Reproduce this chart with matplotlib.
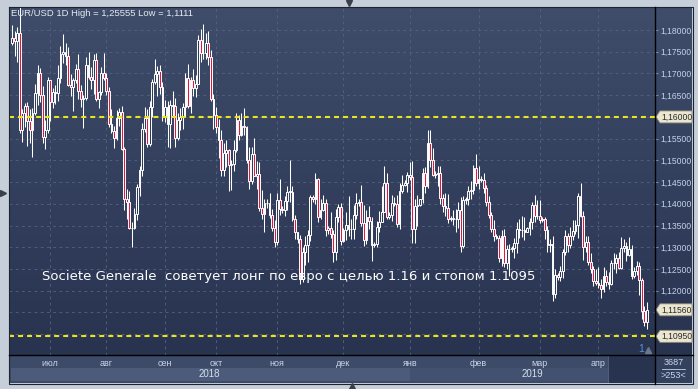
import matplotlib
matplotlib.use("Agg")
import matplotlib.pyplot as plt
from matplotlib.patches import Rectangle, Polygon
from matplotlib.colors import LinearSegmentedColormap
from matplotlib.ticker import FuncFormatter
import numpy as np
import pandas as pd

plt.rcParams['font.family'] = ['Liberation Sans', 'DejaVu Sans']
plt.rcParams['lines.scale_dashes'] = False

W, H = 698, 389

# EUR/USD daily candles, 11 Jun 2018 .. 26 Apr 2019 (broker shows small Sunday bars in winter)
opens = [
    1.1770, 1.1781, 1.1774, 1.1793, 1.1571, 1.1608, 1.1625, 1.1590, 1.1570, 1.1610, 1.1656, 1.1701, 1.1650, 1.1553, 1.1571,
    1.1684, 1.1634, 1.1658, 1.1654, 1.1690, 1.1745, 1.1749, 1.1741, 1.1673, 1.1670, 1.1685, 1.1710, 1.1659, 1.1641, 1.1643,
    1.1720, 1.1693, 1.1685, 1.1731, 1.1642, 1.1657, 1.1701,
    1.1690, 1.1659, 1.1584, 1.1567, 1.1552, 1.1598, 1.1611, 1.1526, 1.1410, 1.1405, 1.1344, 1.1345, 1.1377, 1.1439, 1.1477,
    1.1572, 1.1597, 1.1537, 1.1623, 1.1680, 1.1698, 1.1706, 1.1668,
    1.1603, 1.1622, 1.1583, 1.1627, 1.1625, 1.1551, 1.1593, 1.1600, 1.1623, 1.1690, 1.1626, 1.1684, 1.1666, 1.1675, 1.1778,
    1.1747, 1.1747, 1.1770, 1.1738, 1.1642,
    1.1604, 1.1577, 1.1548, 1.1478, 1.1516, 1.1524, 1.1490, 1.1491, 1.1523, 1.1594, 1.1559, 1.1580, 1.1577, 1.1500, 1.1452,
    1.1514, 1.1463, 1.1469, 1.1391, 1.1377, 1.1401, 1.1402, 1.1374, 1.1345,
    1.1312, 1.1408, 1.1388, 1.1385, 1.1407, 1.1428, 1.1428, 1.1364, 1.1335, 1.1318, 1.1226, 1.1289, 1.1305, 1.1328, 1.1416,
    1.1410, 1.1456, 1.1370, 1.1386, 1.1403, 1.1339, 1.1345, 1.1330, 1.1288, 1.1370, 1.1393,
    1.1315, 1.1340, 1.1352, 1.1342, 1.1343, 1.1375, 1.1403, 1.1405, 1.1355, 1.1317, 1.1370, 1.1361, 1.1306, 1.1307, 1.1347,
    1.1359, 1.1381, 1.1448, 1.1370, 1.1374, 1.1403, 1.1400, 1.1354, 1.1430, 1.1444, 1.1447,
    1.1466, 1.1462, 1.1343, 1.1396, 1.1397, 1.1410, 1.1472, 1.1441, 1.1540, 1.1501, 1.1467, 1.1468, 1.1472, 1.1413, 1.1394,
    1.1391, 1.1364, 1.1368, 1.1366, 1.1364, 1.1385, 1.1304, 1.1408, 1.1411, 1.1429, 1.1431, 1.1482,
    1.1448, 1.1457, 1.1455, 1.1437, 1.1405, 1.1375, 1.1341, 1.1325, 1.1322, 1.1275, 1.1326, 1.1263, 1.1295, 1.1296, 1.1298,
    1.1310, 1.1341, 1.1340, 1.1339, 1.1336, 1.1344, 1.1358, 1.1397, 1.1372,
    1.1371, 1.1363, 1.1365, 1.1339, 1.1305, 1.1307, 1.1193, 1.1235, 1.1232, 1.1246, 1.1288, 1.1327, 1.1306, 1.1327, 1.1337,
    1.1352, 1.1418, 1.1373, 1.1301, 1.1313, 1.1266, 1.1249, 1.1223,
    1.1217, 1.1214, 1.1203, 1.1234, 1.1221, 1.1216, 1.1263, 1.1264, 1.1275, 1.1253, 1.1299, 1.1304, 1.1283, 1.1295, 1.1233,
    1.1245, 1.1258, 1.1224, 1.1153, 1.1129,
]
highs = [
    1.1812, 1.1797, 1.1808, 1.1852, 1.1619, 1.1632, 1.1634, 1.1619, 1.1620, 1.1676, 1.1719, 1.1712, 1.1672, 1.1592, 1.1691,
    1.1685, 1.1666, 1.1673, 1.1720, 1.1763, 1.1791, 1.1769, 1.1762, 1.1698, 1.1689, 1.1722, 1.1744, 1.1673, 1.1651, 1.1738,
    1.1750, 1.1715, 1.1745, 1.1748, 1.1660, 1.1714, 1.1747,
    1.1700, 1.1668, 1.1618, 1.1580, 1.1615, 1.1620, 1.1625, 1.1531, 1.1433, 1.1430, 1.1357, 1.1391, 1.1445, 1.1488, 1.1586,
    1.1622, 1.1618, 1.1636, 1.1688, 1.1733, 1.1717, 1.1720, 1.1680,
    1.1638, 1.1637, 1.1640, 1.1660, 1.1643, 1.1609, 1.1620, 1.1631, 1.1700, 1.1722, 1.1691, 1.1710, 1.1697, 1.1788, 1.1803,
    1.1815, 1.1793, 1.1798, 1.1755, 1.1653,
    1.1622, 1.1596, 1.1571, 1.1541, 1.1547, 1.1526, 1.1500, 1.1547, 1.1609, 1.1605, 1.1608, 1.1621, 1.1580, 1.1531, 1.1530,
    1.1551, 1.1498, 1.1496, 1.1432, 1.1410, 1.1410, 1.1426, 1.1387, 1.1362,
    1.1425, 1.1456, 1.1395, 1.1417, 1.1441, 1.1500, 1.1440, 1.1374, 1.1336, 1.1329, 1.1300, 1.1326, 1.1339, 1.1420, 1.1420,
    1.1472, 1.1460, 1.1410, 1.1420, 1.1410, 1.1350, 1.1381, 1.1340, 1.1389, 1.1400, 1.1401,
    1.1345, 1.1380, 1.1419, 1.1365, 1.1398, 1.1424, 1.1412, 1.1443, 1.1398, 1.1386, 1.1395, 1.1369, 1.1312, 1.1360, 1.1384,
    1.1440, 1.1486, 1.1470, 1.1380, 1.1420, 1.1415, 1.1420, 1.1447, 1.1467, 1.1455, 1.1473,
    1.1497, 1.1498, 1.1410, 1.1420, 1.1412, 1.1482, 1.1485, 1.1569, 1.1570, 1.1529, 1.1475, 1.1487, 1.1486, 1.1423, 1.1426,
    1.1422, 1.1372, 1.1386, 1.1389, 1.1404, 1.1416, 1.1417, 1.1415, 1.1440, 1.1452, 1.1489, 1.1514,
    1.1488, 1.1463, 1.1471, 1.1443, 1.1418, 1.1380, 1.1363, 1.1330, 1.1329, 1.1340, 1.1341, 1.1306, 1.1307, 1.1303, 1.1322,
    1.1357, 1.1366, 1.1372, 1.1369, 1.1347, 1.1368, 1.1404, 1.1420, 1.1408,
    1.1409, 1.1370, 1.1369, 1.1349, 1.1319, 1.1327, 1.1249, 1.1240, 1.1257, 1.1295, 1.1339, 1.1333, 1.1346, 1.1362, 1.1362,
    1.1425, 1.1448, 1.1384, 1.1326, 1.1325, 1.1286, 1.1257, 1.1250,
    1.1255, 1.1227, 1.1255, 1.1247, 1.1243, 1.1271, 1.1287, 1.1284, 1.1288, 1.1324, 1.1318, 1.1313, 1.1324, 1.1305, 1.1254,
    1.1268, 1.1265, 1.1230, 1.1164, 1.1173,
]
lows = [
    1.1765, 1.1741, 1.1727, 1.1563, 1.1542, 1.1576, 1.1532, 1.1540, 1.1508, 1.1604, 1.1627, 1.1635, 1.1539, 1.1527, 1.1563,
    1.1591, 1.1621, 1.1630, 1.1636, 1.1677, 1.1725, 1.1720, 1.1671, 1.1649, 1.1614, 1.1679, 1.1642, 1.1622, 1.1575, 1.1640,
    1.1688, 1.1665, 1.1653, 1.1637, 1.1620, 1.1650, 1.1686,
    1.1650, 1.1576, 1.1562, 1.1529, 1.1547, 1.1580, 1.1525, 1.1385, 1.1365, 1.1343, 1.1301, 1.1341, 1.1362, 1.1419, 1.1463,
    1.1566, 1.1530, 1.1532, 1.1599, 1.1675, 1.1648, 1.1652, 1.1590,
    1.1589, 1.1530, 1.1528, 1.1603, 1.1530, 1.1548, 1.1570, 1.1573, 1.1600, 1.1620, 1.1610, 1.1647, 1.1645, 1.1675, 1.1726,
    1.1734, 1.1733, 1.1720, 1.1636, 1.1573,
    1.1562, 1.1506, 1.1463, 1.1464, 1.1484, 1.1430, 1.1432, 1.1475, 1.1520, 1.1548, 1.1555, 1.1559, 1.1495, 1.1433, 1.1446,
    1.1463, 1.1435, 1.1384, 1.1364, 1.1336, 1.1390, 1.1368, 1.1338, 1.1301,
    1.1305, 1.1375, 1.1378, 1.1373, 1.1385, 1.1404, 1.1360, 1.1318, 1.1310, 1.1216, 1.1221, 1.1259, 1.1265, 1.1315, 1.1405,
    1.1400, 1.1359, 1.1365, 1.1383, 1.1325, 1.1330, 1.1322, 1.1267, 1.1270, 1.1358, 1.1305,
    1.1313, 1.1317, 1.1327, 1.1319, 1.1320, 1.1365, 1.1395, 1.1349, 1.1304, 1.1308, 1.1341, 1.1269, 1.1300, 1.1300, 1.1336,
    1.1358, 1.1380, 1.1364, 1.1365, 1.1360, 1.1395, 1.1346, 1.1343, 1.1425, 1.1440, 1.1427,
    1.1454, 1.1310, 1.1309, 1.1350, 1.1395, 1.1402, 1.1425, 1.1437, 1.1484, 1.1465, 1.1460, 1.1442, 1.1399, 1.1380, 1.1373,
    1.1355, 1.1360, 1.1352, 1.1336, 1.1345, 1.1289, 1.1298, 1.1400, 1.1397, 1.1412, 1.1423, 1.1442,
    1.1435, 1.1450, 1.1425, 1.1395, 1.1367, 1.1335, 1.1314, 1.1318, 1.1265, 1.1258, 1.1255, 1.1249, 1.1234, 1.1290, 1.1276,
    1.1286, 1.1321, 1.1323, 1.1316, 1.1334, 1.1329, 1.1341, 1.1357, 1.1366,
    1.1355, 1.1358, 1.1318, 1.1290, 1.1290, 1.1176, 1.1184, 1.1225, 1.1222, 1.1229, 1.1283, 1.1290, 1.1298, 1.1317, 1.1330,
    1.1322, 1.1369, 1.1270, 1.1288, 1.1260, 1.1240, 1.1210, 1.1214,
    1.1206, 1.1183, 1.1197, 1.1210, 1.1204, 1.1212, 1.1250, 1.1241, 1.1250, 1.1251, 1.1290, 1.1268, 1.1279, 1.1226, 1.1229,
    1.1237, 1.1190, 1.1134, 1.1118, 1.1111,
]
closes = [
    1.1781, 1.1774, 1.1793, 1.1571, 1.1608, 1.1625, 1.1590, 1.1570, 1.1610, 1.1656, 1.1701, 1.1650, 1.1553, 1.1571, 1.1684,
    1.1634, 1.1658, 1.1654, 1.1690, 1.1745, 1.1749, 1.1741, 1.1673, 1.1670, 1.1685, 1.1710, 1.1659, 1.1641, 1.1643, 1.1720,
    1.1693, 1.1685, 1.1731, 1.1642, 1.1657, 1.1701, 1.1690,
    1.1659, 1.1584, 1.1567, 1.1552, 1.1598, 1.1611, 1.1526, 1.1410, 1.1405, 1.1344, 1.1345, 1.1377, 1.1439, 1.1477, 1.1572,
    1.1597, 1.1537, 1.1623, 1.1680, 1.1698, 1.1706, 1.1668, 1.1603,
    1.1622, 1.1583, 1.1627, 1.1625, 1.1551, 1.1593, 1.1600, 1.1623, 1.1690, 1.1626, 1.1684, 1.1666, 1.1675, 1.1778, 1.1747,
    1.1747, 1.1770, 1.1738, 1.1642, 1.1604,
    1.1577, 1.1548, 1.1478, 1.1516, 1.1524, 1.1490, 1.1491, 1.1523, 1.1594, 1.1559, 1.1580, 1.1577, 1.1500, 1.1452, 1.1514,
    1.1463, 1.1469, 1.1391, 1.1377, 1.1401, 1.1402, 1.1374, 1.1345, 1.1312,
    1.1408, 1.1388, 1.1385, 1.1407, 1.1428, 1.1428, 1.1364, 1.1335, 1.1318, 1.1226, 1.1289, 1.1305, 1.1328, 1.1416, 1.1410,
    1.1456, 1.1370, 1.1386, 1.1403, 1.1339, 1.1345, 1.1330, 1.1288, 1.1370, 1.1393, 1.1315,
    1.1340, 1.1352, 1.1342, 1.1343, 1.1375, 1.1403, 1.1405, 1.1355, 1.1317, 1.1370, 1.1361, 1.1306, 1.1307, 1.1347, 1.1359,
    1.1381, 1.1448, 1.1370, 1.1374, 1.1403, 1.1400, 1.1354, 1.1430, 1.1444, 1.1447, 1.1466,
    1.1462, 1.1343, 1.1396, 1.1397, 1.1410, 1.1472, 1.1441, 1.1540, 1.1501, 1.1467, 1.1468, 1.1472, 1.1413, 1.1394, 1.1391,
    1.1364, 1.1368, 1.1366, 1.1364, 1.1385, 1.1304, 1.1408, 1.1411, 1.1429, 1.1431, 1.1482, 1.1448,
    1.1457, 1.1455, 1.1437, 1.1405, 1.1375, 1.1341, 1.1325, 1.1322, 1.1275, 1.1326, 1.1263, 1.1295, 1.1296, 1.1298, 1.1310,
    1.1341, 1.1340, 1.1339, 1.1336, 1.1344, 1.1358, 1.1397, 1.1372, 1.1371,
    1.1363, 1.1365, 1.1339, 1.1305, 1.1307, 1.1193, 1.1235, 1.1232, 1.1246, 1.1288, 1.1327, 1.1306, 1.1327, 1.1337, 1.1352,
    1.1418, 1.1373, 1.1301, 1.1313, 1.1266, 1.1249, 1.1223, 1.1217,
    1.1214, 1.1203, 1.1234, 1.1221, 1.1216, 1.1263, 1.1264, 1.1275, 1.1253, 1.1299, 1.1304, 1.1283, 1.1295, 1.1233, 1.1245,
    1.1258, 1.1224, 1.1153, 1.1129, 1.1156,
]

weekdays = pd.bdate_range("2018-06-11", "2019-04-26")
sundays = pd.date_range("2018-10-28", "2019-03-10", freq="W-SUN")
dates = weekdays.union(sundays)
assert len(dates) == len(opens) == len(highs) == len(lows) == len(closes)

month_starts = pd.date_range("2018-07-01", "2019-04-01", freq="MS")
month_names = ["июл", "авг", "сен", "окт", "ноя", "дек", "янв", "фев", "мар", "апр"]
years = ["2018", "2019"]
year_start = pd.Timestamp("2019-01-01")

price_ticks = [1.120, 1.125, 1.130, 1.135, 1.140, 1.145, 1.150, 1.155, 1.165, 1.170, 1.175, 1.180]
grid_levels = [1.110, 1.115, 1.120, 1.125, 1.130, 1.135, 1.140, 1.145, 1.150, 1.155, 1.160, 1.165, 1.170, 1.175, 1.180]
levels = [1.16, 1.1095]          # target and stop
last_price = 1.1156

title = "EUR/USD 1D High = 1,25555 Low = 1,1111"
note = "Societe Generale  советует лонг по евро с целью 1.16 и стопом 1.1095"


def px_rect(x0, y0, x1, y1):
    return [x0 / W, 1 - y1 / H, (x1 - x0) / W, (y1 - y0) / H]


def price_fmt(v, pos=None):
    return f"{v:.5f}".replace(".", ",")


fig = plt.figure(figsize=(W / 100, H / 100), dpi=100, facecolor="#c6ced9")
bg = LinearSegmentedColormap.from_list("bg", ["#283350", "#3f4d6a"])
grad = np.linspace(0, 1, 256).reshape(-1, 1)

# right price panel (added first so the price labels sit on top of it)
ax_r = fig.add_axes(px_rect(655, 7, 692, 355))
ax_r.imshow(grad, extent=[0, 1, 0, 1], cmap=bg, aspect="auto", origin="lower")
ax_r.set_axis_off()

# bottom date panel
ax_b = fig.add_axes(px_rect(9, 355, 655, 383))
ax_b.set_facecolor("#3d4b68")
ax_b.set_xticks([])
ax_b.set_yticks([])
for s in ax_b.spines.values():
    s.set_visible(False)

ax_c = fig.add_axes(px_rect(655, 355, 692, 383))
ax_c.set_facecolor("#34415e")
ax_c.set_xticks([])
ax_c.set_yticks([])
for s in ax_c.spines.values():
    s.set_visible(False)
ax_c.text(0.5, 0.72, "3687", ha="center", va="center", color="#c9d5e8", fontsize=6.5, transform=ax_c.transAxes)
ax_c.text(0.5, 0.27, ">253<", ha="center", va="center", color="#c9d5e8", fontsize=6.5, transform=ax_c.transAxes)
ax_c.plot([0.2, 0.8], [0.5, 0.5], color="#c9d5e8", lw=0.6, transform=ax_c.transAxes)

# main chart
ax = fig.add_axes(px_rect(9, 7, 655, 355))
ax.imshow(grad, extent=[0, 1, 0, 1], transform=ax.transAxes, cmap=bg, aspect="auto", origin="lower", zorder=0)
x = np.arange(len(dates))
xlim = (-1.2, 252.2)
ax.set_xlim(*xlim)
ax.set_ylim(1.1052, 1.1853)
ax_b.set_xlim(*xlim)
ax_b.set_ylim(0, 1)

month_idx = dates.searchsorted(month_starts)
for lv in grid_levels:
    ax.axhline(lv, color="#56637f", lw=0.6, dashes=(2, 2.5), zorder=1)
for i in month_idx:
    ax.axvline(i, color="#56637f", lw=0.6, dashes=(2, 2.5), zorder=1)

# candles: hollow when up, red when down
o = np.array(opens)
c = np.array(closes)
ax.vlines(x, lows, highs, color="white", lw=0.75, zorder=3)
bw = 0.7
for xi, oi, ci in zip(x, o, c):
    bottom = min(oi, ci)
    height = max(abs(ci - oi), 0.00004)
    fc = "#e3163f" if ci < oi else "#2f3b57"
    ax.add_patch(Rectangle((xi - bw / 2, bottom), bw, height, facecolor=fc,
                           edgecolor="white", lw=0.7, zorder=4))

for lv in levels:
    ax.axhline(lv, color="#e9e41d", lw=1.5, dashes=(3.6, 2.9), zorder=5)

ax.text(0.051, 0.227, note, transform=ax.transAxes, color="white", fontsize=9.5,
        family="DejaVu Sans", ha="left", va="center", zorder=6)

ax.yaxis.tick_right()
ax.set_yticks(price_ticks)
ax.yaxis.set_major_formatter(FuncFormatter(price_fmt))
ax.tick_params(axis="y", colors="#6f8fc0", labelcolor="#c3d3ea", labelsize=6.2, length=2, pad=2)
ax.set_xticks([])
for s in ax.spines.values():
    s.set_visible(False)

# date labels
for i, name in zip(month_idx, month_names):
    ax_b.text(i, 0.71, name, ha="center", va="center", color="#c8d4e6", fontsize=6.5)
jan = dates.searchsorted(year_start)
ax_b.axvspan(xlim[0] + 0.8, jan, ymin=0.07, ymax=0.54, color="#4b5b79", lw=0)
ax_b.axvspan(jan, xlim[1], ymin=0.07, ymax=0.54, color="#425170", lw=0)
ax_b.text((xlim[0] + jan) / 2, 0.31, years[0], ha="center", va="center", color="#d4deec", fontsize=7)
ax_b.text((jan + xlim[1]) / 2, 0.31, years[1], ha="center", va="center", color="#d4deec", fontsize=7)
ax_b.add_patch(Rectangle((0.927, 0), 0.073, 1, transform=ax_b.transAxes, facecolor="#28334f",
                         edgecolor="#55647f", lw=0.6, zorder=3))

# overlay in pixel coordinates for the frame and price callouts
ov = fig.add_axes([0, 0, 1, 1], zorder=10)
ov.set_xlim(0, W)
ov.set_ylim(H, 0)
ov.set_axis_off()
ov.patch.set_alpha(0)
ov.plot([8.5, 692.5, 692.5, 8.5, 8.5], [6.5, 6.5, 383.5, 383.5, 6.5], color="#1d2330", lw=0.8)
ov.plot([655, 655], [6.5, 383.5], color="black", lw=1)
ov.plot([8.5, 692.5], [355, 355], color="black", lw=1)
ov.plot([349], [3], marker="v", color="#3a3f48", ms=5)
ov.plot([352], [386], marker="^", color="#3a3f48", ms=5)
ov.plot([3], [193], marker=">", color="#3a3f48", ms=4)
ov.text(641, 349, "1", color="#5c8fd8", fontsize=7.5, ha="center", va="center")
ov.plot([648], [350], marker="^", color="#6b778c", ms=4)

for lv in [levels[0], last_price, levels[1]]:
    yc = H - ax.transData.transform((0, lv))[1]
    ov.add_patch(Polygon([(656, yc), (660, yc - 6), (692, yc - 6), (692, yc + 6), (660, yc + 6)],
                         closed=True, facecolor="#ebe6cf", edgecolor="#8f8b7a", lw=0.6))
    ov.text(661, yc, price_fmt(lv), color="#2a2a2a", fontsize=6.2, ha="left", va="center")

fig.text(11 / W, 1 - 14 / H, title, color="#e4eaf2", fontsize=6.8, va="center", ha="left")

fig.savefig("out.png", dpi=100, facecolor=fig.get_facecolor())
